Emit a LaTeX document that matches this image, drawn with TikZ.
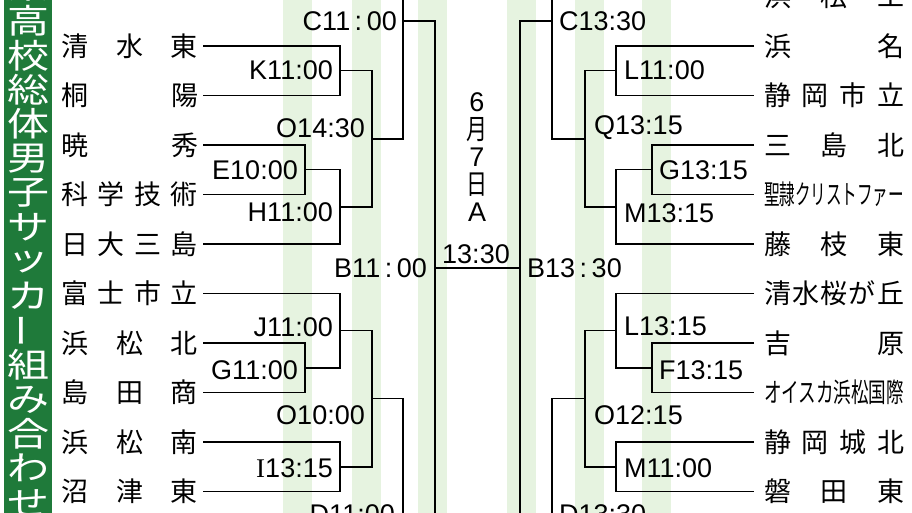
\documentclass[tikz,border=0pt]{standalone}
\usepackage{fontspec}
\usepackage{graphicx}
\setmainfont{Noto Sans CJK JP}
\newfontfamily\lblfont{Liberation Sans}
\newfontfamily\serifI{Liberation Serif}
\usetikzlibrary{positioning}
\definecolor{bannergreen}{RGB}{31,122,58}
\definecolor{bandgreen}{RGB}{230,243,224}
\tikzset{
  lname/.style={anchor=east,inner sep=0pt,outer xsep=5pt,font=\fontsize{27}{27}\selectfont},
  rname/.style={anchor=west,inner sep=0pt,outer xsep=10pt,font=\fontsize{27}{27}\selectfont},
  lmatch/.style={anchor=east,inner sep=0pt,font=\lblfont\fontsize{27}{27}\selectfont},
  rmatch/.style={anchor=west,inner sep=0pt,font=\lblfont\fontsize{27}{27}\selectfont},
  bracket/.style={line width=1.5pt},
  band/.style={fill=bandgreen},
  title/.style={text=white,inner sep=0pt,font=\fontsize{42}{42}\selectfont},
  datechar/.style={inner sep=0pt,font=\lblfont\fontsize{27}{27}\selectfont},
}
\newcommand{\lbox}[1]{\makebox[137pt][s]{#1}}
\newcommand{\rbox}[1]{\makebox[140pt][s]{#1}}
\newcommand{\narrow}[1]{{\fontspec{Noto Sans CJK JP}\fontsize{28}{28}\selectfont\scalebox{0.75}[1]{#1}}}

\begin{document}
\begin{tikzpicture}[x=1pt,y=-1pt]
\useasboundingbox (0,0) rectangle (912,513);
\clip (0,0) rectangle (912,513);
%draw background bands
\foreach \x in {283, 352, 418, 507, 575, 642}{
   \fill[band] (\x,0) rectangle (\x+28.5,513);
}
%draw title banner
\fill[bannergreen] (4,0) rectangle (52,513);
\foreach \c [count=\k from 0] in {県,高,校,総,体,男,子,サ,ッ,カ,{\rotatebox{90}{ー}},組,み,合,わ,せ}{
   \node[title] (t\k) at (28,-13.4+34.4*\k) {\scalebox{1}[0.8]{\c}};
}
%draw team names, left side
\foreach \i/\y/\t in {0/46/清\hfill 水\hfill 東, 1/95.5/桐\hfill 陽, 2/145/暁\hfill 秀,
   3/194.5/科\hfill 学\hfill 技\hfill 術, 4/244/日\hfill 大\hfill 三\hfill 島,
   5/293.5/富\hfill 士\hfill 市\hfill 立, 6/343/浜\hfill 松\hfill 北,
   7/392.5/島\hfill 田\hfill 商, 8/442/浜\hfill 松\hfill 南, 9/491.5/沼\hfill 津\hfill 東}{
   \node[lname] (l\i) at (203,\y) {\lbox{\t}};
}
%draw team names, right side
\foreach \i/\y/\t in {0/-3.5/浜\hfill 松\hfill 工, 1/46/浜\hfill 名,
   2/95.5/静\hfill 岡\hfill 市\hfill 立, 3/145/三\hfill 島\hfill 北,
   4/194.5/\resizebox{140pt}{\height}{聖隷クリストファー}, 5/244/藤\hfill 枝\hfill 東,
   6/293.5/清\hfill 水\hfill 桜\hfill が\hfill 丘, 7/343/吉\hfill 原,
   8/392.5/\resizebox{140pt}{\height}{オイスカ浜松国際},
   9/442/静\hfill 岡\hfill 城\hfill 北, 10/491.5/磐\hfill 田\hfill 東}{
   \node[rname] (r\i) at (754,\y) {\rbox{\t}};
}
% left bracket
\coordinate (K) at (340,70.75);
\coordinate (E) at (305,169.75);
\coordinate (H) at (340,206.9);
\coordinate (O1) at (372,138.8);
\coordinate (Ctop) at (403,-97);
\coordinate (C) at (403,20.9);
\coordinate (J) at (340,330.6);
\coordinate (G) at (305,367.75);
\coordinate (I) at (340,466.75);
\coordinate (O2) at (372,398.7);
\coordinate (D) at (403,515);
\coordinate (Dbot) at (403,631);
\coordinate (B) at (435,268);
\draw[bracket] (l0.east) -| (K) |- (l1.east);
\draw[bracket] (l2.east) -| (E) |- (l3.east);
\draw[bracket] (E) -| (H) |- (l4.east);
\draw[bracket] (K) -| (O1) |- (H);
\draw[bracket] (O1) -| (C) -- (Ctop);
\draw[bracket] (l5.east) -| (J) |- (G);
\draw[bracket] (l6.east) -| (G) |- (l7.east);
\draw[bracket] (l8.east) -| (I) |- (l9.east);
\draw[bracket] (J) -| (O2) |- (I);
\draw[bracket] (O2) -| (D) -- (Dbot);
\draw[bracket] (C) -| (B) |- (D);
% right bracket
\coordinate (L11) at (616,70.75);
\coordinate (G13) at (652,169.75);
\coordinate (M13) at (616,206.9);
\coordinate (Q) at (585,138.8);
\coordinate (C13) at (552,20.9);
\coordinate (C13top) at (552,-97);
\coordinate (L13) at (616,330.6);
\coordinate (F13) at (652,367.75);
\coordinate (M11) at (616,466.75);
\coordinate (O12) at (585,398.7);
\coordinate (D13) at (552,515);
\coordinate (D13bot) at (552,631);
\coordinate (B13) at (520,268);
\draw[bracket] (r1.west) -| (L11) |- (r2.west);
\draw[bracket] (r3.west) -| (G13) |- (r4.west);
\draw[bracket] (G13) -| (M13) |- (r5.west);
\draw[bracket] (L11) -| (Q) |- (M13);
\draw[bracket] (Q) -| (C13) -- (C13top);
\draw[bracket] (r6.west) -| (L13) |- (F13);
\draw[bracket] (r7.west) -| (F13) |- (r8.west);
\draw[bracket] (r9.west) -| (M11) |- (r10.west);
\draw[bracket] (L13) -| (O12) |- (M11);
\draw[bracket] (O12) -| (D13) -- (D13bot);
\draw[bracket] (C13) -| (B13) |- (D13);
% final
\draw[bracket] (B) -- (B13);
%draw match labels
\node[lmatch] (kK) at (333,70) {K11:00};
\node[lmatch] (kE) at (298,170) {E10:00};
\node[lmatch] (kH) at (333,212) {H11:00};
\node[lmatch] (kO1) at (365,128) {O14:30};
\node[lmatch] (kC) at (397,21) {C11\,:\,00};
\node[lmatch] (kJ) at (333,327) {J11:00};
\node[lmatch] (kG) at (298,370) {G11:00};
\node[lmatch] (kI) at (333,468) {{\serifI I}13:15};
\node[lmatch] (kO2) at (365,415) {O10:00};
\node[lmatch] (kD) at (395,514) {D11:00};
\node[lmatch] (kB) at (427,268) {B11\,:\,00};
\node[rmatch] (kL11) at (624,70) {L11:00};
\node[rmatch] (kG13) at (659,170) {G13:15};
\node[rmatch] (kM13) at (624,213) {M13:15};
\node[rmatch] (kQ) at (594,128) {Q13:15};
\node[rmatch] (kC13) at (559,21) {C13:30};
\node[rmatch] (kL13) at (624,326) {L13:15};
\node[rmatch] (kF13) at (659,370) {F13:15};
\node[rmatch] (kM11) at (624,468) {M11:00};
\node[rmatch] (kO12) at (594,415) {O12:15};
\node[rmatch] (kD13) at (559,514) {D13:30};
\node[rmatch] (kB13) at (527,268) {B13\,:\,30};
\node[datechar] (kfinal) at (476,254) {13:30};
%draw date
\node[datechar] (d1) at (477,102) {6};
\node[datechar] (d2) at (477,130) {\narrow{月}};
\node[datechar] (d3) at (477,157) {7};
\node[datechar] (d4) at (477,184.5) {\narrow{日}};
\node[datechar] (d5) at (477,212) {A};
\end{tikzpicture}
\end{document}
